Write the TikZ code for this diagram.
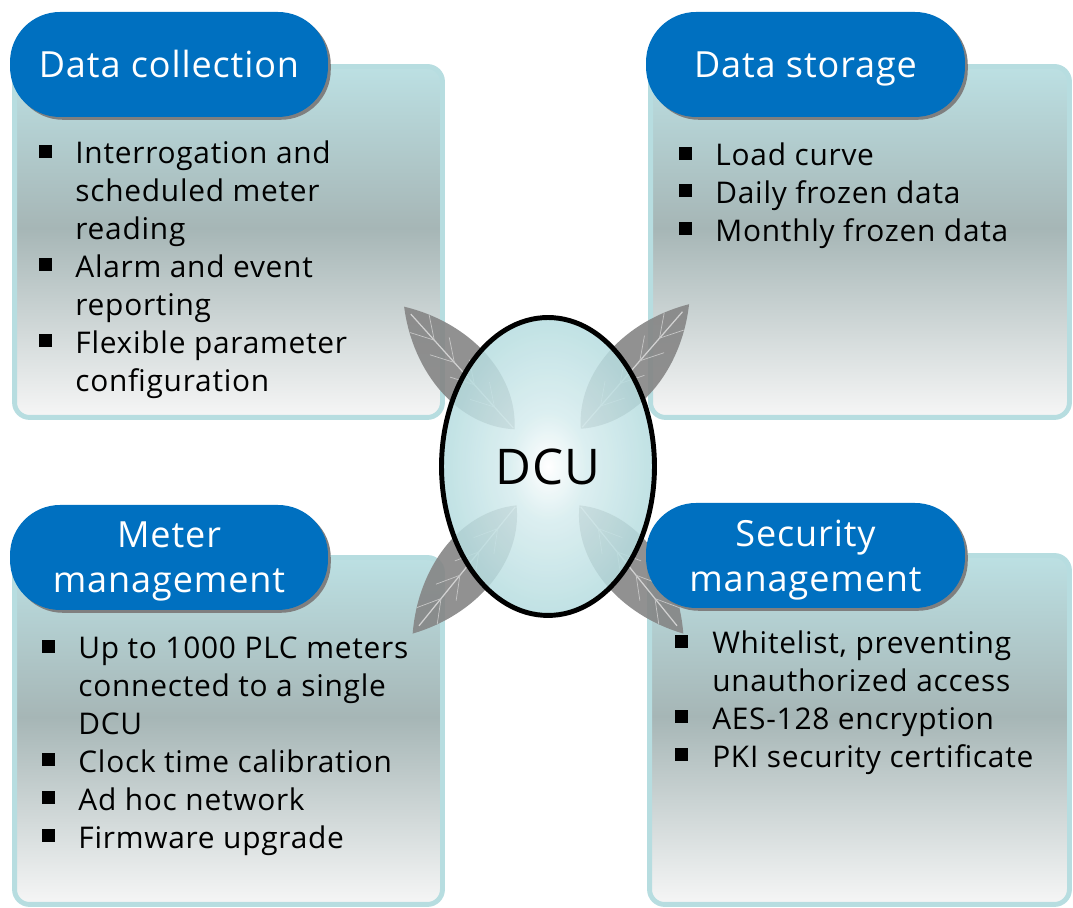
\documentclass[tikz,border=0pt]{standalone}
\usepackage{fontspec}
\setmainfont{Open Sans}[LetterSpace=2.5]
\usepackage{array}
\usetikzlibrary{positioning,shapes.geometric,shadows}

\definecolor{hdrblue}{HTML}{0070C0}
\definecolor{hdrshadow}{HTML}{7F7F7F}
\definecolor{panline}{HTML}{B7DDE0}
\definecolor{pantop}{HTML}{BCE0E3}
\definecolor{panmid}{HTML}{A6B6B6}
\definecolor{panbot}{HTML}{F6F6F6}
\definecolor{hubcyan}{HTML}{B5DCDF}
\definecolor{hubmid}{HTML}{D6ECEE}
\definecolor{leafgray}{HTML}{858585}

\pgfdeclareverticalshading{panelfade}{100bp}{color(0bp)=(panbot); color(25bp)=(panbot); color(52bp)=(panmid); color(75bp)=(pantop); color(100bp)=(pantop)}
\pgfdeclareradialshading{hubglow}{\pgfpoint{0bp}{0bp}}{color(0bp)=(white); color(9bp)=(hubmid); color(25bp)=(hubcyan); color(50bp)=(hubcyan)}

% square bullet used in the lists
\newcommand{\sqb}{\rule[3.3pt]{7.4pt}{7.4pt}}

\tikzset{
    dculeaf/.pic={
        \fill[leafgray, opacity=0.9] (50,0) .. controls (90,40) and (160,38) .. (215,0) .. controls (160,-38) and (90,-40) .. (50,0);
        \draw[white!65!gray, line width=0.7pt] (52,0) -- (205,0);
        \foreach \v in {80,110,140,170}{
            \draw[white!55!gray, line width=0.4pt] (\v,0) -- ++(22,13);
            \draw[white!55!gray, line width=0.4pt] (\v,0) -- ++(22,-13);
        }
    }
}

\begin{document}
\begin{tikzpicture}[
    x=0.02cm, y=0.02cm,
    panel/.style={draw=panline, line width=2.8pt, rounded corners=0.3cm, shading=panelfade},
    header/.style={rectangle, rounded corners=1cm, fill=hdrblue, text=white, align=center,
        minimum height=2.1cm, text depth=0pt, font=\fontsize{20.5}{25.6}\selectfont,
        drop shadow={shadow xshift=1.6pt, shadow yshift=-1.6pt, fill=hdrshadow, opacity=1}},
    itemlist/.style={anchor=north west, inner sep=0pt, font=\fontsize{17}{21.6}\selectfont},
    hub/.style={ellipse, draw=black, line width=2.8pt, shading=hubglow, fill opacity=0.85, text opacity=1,
        minimum width=4.26cm, minimum height=5.96cm, font=\fontsize{28}{34}\selectfont}
]
\useasboundingbox (0,0) rectangle (1073,908);

% four panels
\node[panel, minimum width=8.56cm, minimum height=7.02cm] (colpanel) at (228.5,666) {};
\node[panel, minimum width=8.38cm, minimum height=7.02cm] (storpanel) at (860,666) {};
\node[panel, minimum width=8.56cm, minimum height=6.94cm] (mtrpanel) at (228.5,177) {};
\node[panel, minimum width=8.40cm, minimum height=6.98cm] (secpanel) at (859.5,178) {};

% leaves behind the DCU
\coordinate (hubc) at (548,441.5);
\pic[rotate=132] at (hubc) {dculeaf};
\pic[rotate=49] at (hubc) {dculeaf};
\pic[rotate=231] at (hubc) {dculeaf};
\pic[rotate=309] at (hubc) {dculeaf};

% headers
\node[header, minimum width=6.36cm, text height=14.8pt] (colhead) at (169,843.5) {Data collection};
\node[header, minimum width=6.38cm, text height=14.8pt] (storhead) at (805.5,843.5) {Data storage};
\node[header, minimum width=6.36cm] (mtrhead) at (169,350.5) {Meter\\management};
\node[header, minimum width=6.38cm] (sechead) at (805.5,352.5) {Security\\management};

% item lists
\node[itemlist] (colitems) at (39,771.6) {\begin{tabular}{@{}p{20.5pt}@{}l@{}}
\sqb & Interrogation and\\
     & scheduled meter\\
     & reading\\
\sqb & Alarm and event\\
     & reporting\\
\sqb & Flexible parameter\\
     & configuration
\end{tabular}};

\node[itemlist] (storitems) at (679,769.6) {\begin{tabular}{@{}p{20.5pt}@{}l@{}}
\sqb & Load curve\\
\sqb & Daily frozen data\\
\sqb & Monthly frozen data
\end{tabular}};

\node[itemlist] (mtritems) at (42,276.6) {\begin{tabular}{@{}p{20.5pt}@{}l@{}}
\sqb & Up to 1000 PLC meters\\
     & connected to a single\\
     & DCU\\
\sqb & Clock time calibration\\
\sqb & Ad hoc network\\
\sqb & Firmware upgrade
\end{tabular}};

\node[itemlist] (secitems) at (675,281.6) {\begin{tabular}{@{}p{21pt}@{}l@{}}
\sqb & Whitelist, preventing\\
     & unauthorized access\\
\sqb & AES-128 encryption\\
\sqb & PKI security certificate
\end{tabular}};

% centre
\node[hub] (dcu) at (hubc) {DCU};

\end{tikzpicture}
\end{document}
